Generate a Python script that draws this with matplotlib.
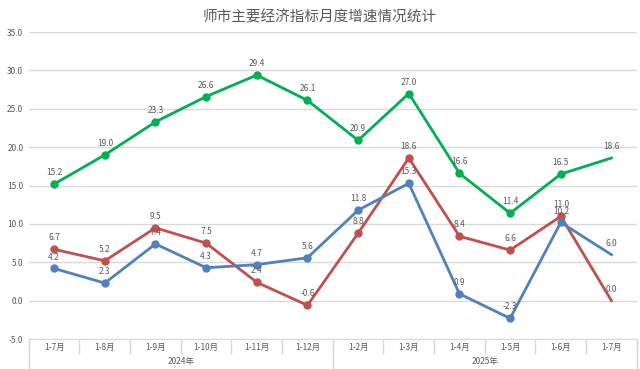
import numpy as np
import matplotlib.pyplot as plt
from matplotlib.transforms import blended_transform_factory

plt.rcParams['font.family'] = ['Noto Sans CJK SC', 'DejaVu Sans']

months = ["1-7月", "1-8月", "1-9月", "1-10月", "1-11月", "1-12月",
          "1-2月", "1-3月", "1-4月", "1-5月", "1-6月", "1-7月"]
years = ["2024年", "2025年"]
green = [15.2, 19.0, 23.3, 26.6, 29.4, 26.1, 20.9, 27.0, 16.6, 11.4, 16.5, 18.6]
red = [6.7, 5.2, 9.5, 7.5, 2.4, -0.6, 8.8, 18.6, 8.4, 6.6, 11.0, 0.0]
blue = [4.2, 2.3, 7.4, 4.3, 4.7, 5.6, 11.8, 15.3, 0.9, -2.3, 10.2, 6.0]

txt = "#595959"
grid = "#D9D9D9"

fig = plt.figure(figsize=(6.4, 3.69), dpi=100)
ax = fig.add_axes([0.045, 0.081, 0.95, 0.832])
x = np.arange(len(months))

for vals, col in [(green, "#00B050"), (red, "#C0504D"), (blue, "#4F81BD")]:
    ax.plot(x, vals, color=col, lw=2, marker="o", ms=5,
            markevery=list(range(len(vals) - 1)), zorder=3)
    for xi, v in zip(x, vals):
        ax.annotate(f"{v:.1f}", (xi, v), xytext=(0, 5), textcoords="offset points",
                    ha="center", va="bottom", fontsize=6, color=txt, zorder=4)

ax.set_xlim(-0.5, len(months) - 0.5)
ax.set_ylim(-5, 35)
ax.set_yticks(np.arange(-5, 36, 5))
ax.set_yticklabels([f"{v:.1f}" for v in np.arange(-5, 36, 5)])
ax.yaxis.grid(True, color=grid, lw=1)
ax.set_axisbelow(True)
for s in ["top", "right", "left"]:
    ax.spines[s].set_visible(False)
ax.spines["bottom"].set_color(grid)
ax.tick_params(axis="y", length=0, labelsize=6, labelcolor=txt, pad=4)

ax.set_xticks(x)
ax.set_xticklabels(months)
ax.tick_params(axis="x", which="major", length=0, labelsize=6, labelcolor=txt, pad=3)
ax.set_xticks(np.arange(-0.5, len(months)), minor=True)
ax.tick_params(axis="x", which="minor", length=11, color=grid, width=1)

trans = blended_transform_factory(ax.transData, ax.transAxes)
for b in [-0.5, 5.5, 11.5]:
    ax.plot([b, b], [0, -0.11], color=grid, lw=1, transform=trans, clip_on=False)
ax.text(2.5, -0.074, years[0], transform=trans, ha="center", va="center",
        fontsize=6, color=txt)
ax.text(8.5, -0.074, years[1], transform=trans, ha="center", va="center",
        fontsize=6, color=txt)

fig.text(0.5, 0.953, "师市主要经济指标月度增速情况统计", ha="center", va="center",
         fontsize=10.5, color=txt)

fig.savefig("out.png", dpi=100)
